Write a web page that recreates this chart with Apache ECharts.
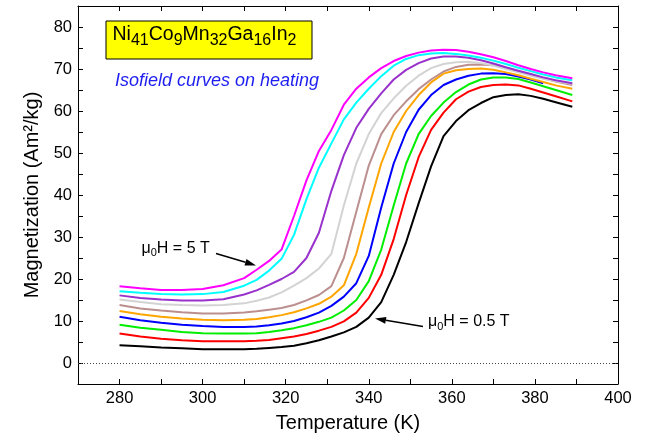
<!DOCTYPE html>
<html><head><meta charset="utf-8">
<script src="https://cdn.jsdelivr.net/npm/echarts@6/dist/echarts.min.js"></script>
<style>html,body{margin:0;padding:0;background:#fff}#c{width:646px;height:438px}</style>
</head><body><div id="c"></div>
<script>
// ---- data ----
const temperature = [280,285,290,295,300,305,310,313,316,319,322,325,328,331,334,337,340,343,346,349,352,355,358,361,364,367,370,373,376,379,382,385,389];

const m0_5T = [4.2,4.0,3.7,3.5,3.3,3.3,3.3,3.4,3.6,3.8,4.1,4.7,5.4,6.3,7.3,8.6,10.8,14.5,21,28.8,38,46.8,54,57.6,60.2,61.9,63.3,63.8,64.0,63.6,62.9,62.1,61.0];
const m1_0T = [7.0,6.3,5.8,5.4,5.2,5.2,5.2,5.3,5.5,5.9,6.3,6.9,7.7,8.6,9.9,12,15.5,21,29.5,40,49,55.5,59.6,62.8,64.6,65.7,66.2,66.3,66.1,65.3,64.4,63.5,62.3];
const m1_5T = [9.1,8.4,7.9,7.4,7.1,7.0,7.0,7.1,7.4,7.8,8.3,9.0,9.8,10.8,12.5,15,19.5,27,37.5,47.5,54.5,58.8,62,64.5,66.3,67.5,68,68,67.6,66.8,65.9,65,63.8];
const m2_0T = [11.0,10.2,9.6,9.1,8.8,8.6,8.6,8.7,9.0,9.4,10.0,10.9,12.0,13.6,15.8,19,25.5,37,47.5,55,60.3,63.8,66.2,67.5,68.4,68.9,69,68.8,68.2,67.5,66.6,null,null];
const m2_5T = [12.4,11.6,11.0,10.6,10.3,10.2,10.3,10.5,10.9,11.4,12.1,13.0,14.1,15.8,18.5,26,37,47.5,55,60,63.8,66.8,68.9,69.7,70,70.1,69.8,69.2,68.5,67.7,66.9,66.1,65.3];
const m3_0T = [13.8,13.0,12.5,12.1,11.8,11.8,12.0,12.3,12.7,13.1,13.8,14.9,16.2,18.3,25,36,47,54.5,59,62.3,65.2,67.5,69.4,70.5,71,71.1,70.9,70.3,69.5,68.6,67.8,67,66.2];
const m3_5T = [15.1,14.5,14.0,13.8,13.7,13.8,14.2,14.8,15.6,16.8,18.4,20.2,22.5,26,37.5,47.5,54.5,59.5,63,66,68.4,70.2,71.2,71.6,71.7,71.4,70.8,70,69.2,68.4,67.7,67.1,66.5];
const m4_0T = [16.1,15.5,15.1,14.9,14.9,15.2,16.3,17.3,18.6,20,21.7,25,31,41,49.5,56,60.5,64.2,67.5,69.8,71.4,72.5,73,73,72.7,72.1,71.3,70.4,69.6,68.8,68,67.3,66.6];
const m4_5T = [17.1,16.7,16.4,16.3,16.4,16.9,18.4,19.8,22,24.8,30.5,39,46.5,52.3,58,62,65.3,68.3,70.8,72.4,73.3,73.7,73.8,73.6,73.2,72.7,72,71.2,70.3,69.5,68.7,68,67.3];
const m5_0T = [18.3,17.8,17.4,17.4,17.6,18.5,20.2,22.2,24.3,27,35,43.5,50.5,55.5,61.5,65.3,68,70.2,71.9,73.1,73.9,74.4,74.6,74.5,74.1,73.5,72.8,71.9,70.9,70,69.2,68.5,67.8];

const fieldNames = ['0.5 T','1 T','1.5 T','2 T','2.5 T','3 T','3.5 T','4 T','4.5 T','5 T'];
const xTickLabels = [280,300,320,340,360,380,400];
const yTickLabels = [0,10,20,30,40,50,60,70,80];

// ---- styling ----
const curves = [m0_5T,m1_0T,m1_5T,m2_0T,m2_5T,m3_0T,m3_5T,m4_0T,m4_5T,m5_0T];
const colors = ['#000000','#ff0000','#00ee00','#0000ff','#ffa500','#bc8f8f','#d3d3d3','#9932cc','#00ffff','#ff00ff'];
const F = '"Liberation Sans", Arial, Helvetica, sans-serif';

const series = curves.map((vals, i) => {
  const s = {
    name: fieldNames[i], type: 'line', showSymbol: false, symbol: 'none',
    data: temperature.map((t, j) => [t, vals[j]]),
    lineStyle: { color: colors[i], width: 2 }, itemStyle: { color: colors[i] },
    z: 3 + i, silent: true, connectNulls: false
  };
  if (i === 0) {
    s.markLine = { silent: true, symbol: 'none', label: { show: false },
      lineStyle: { type: [1, 2], color: '#444', width: 1 }, data: [{ yAxis: 0 }], z: 1 };
  }
  return s;
});

const axisCommon = {
  axisLine: { show: true, onZero: false, lineStyle: { color: '#000', width: 1 } },
  axisTick: { show: true, inside: true, length: 5, lineStyle: { color: '#000', width: 1 } },
  splitLine: { show: false }
};

const chart = echarts.init(document.getElementById('c'), null, { renderer: 'canvas' });
chart.setOption({
  animation: false,
  backgroundColor: '#fff',
  grid: { left: 78, right: 28, top: 6, bottom: 54, outerBoundsMode: 'none', containLabel: false },
  xAxis: [
    Object.assign({ type: 'value', min: 270, max: 400, interval: 10, position: 'bottom',
      axisLabel: { formatter: v => xTickLabels.includes(v) ? String(v) : '', color: '#000', fontSize: 16.5, fontFamily: F, margin: 6 },
      name: 'Temperature (K)', nameLocation: 'middle', nameGap: 29,
      nameTextStyle: { fontSize: 20, color: '#000', fontFamily: F } }, axisCommon),
    Object.assign({ type: 'value', min: 270, max: 400, interval: 10, position: 'top',
      axisLabel: { show: false } }, axisCommon)
  ],
  yAxis: [
    Object.assign({ type: 'value', min: -5, max: 85, interval: 5, position: 'left',
      axisLabel: { formatter: v => yTickLabels.includes(v) ? String(v) : '', color: '#000', fontSize: 16.5, fontFamily: F, margin: 6 },
      name: 'Magnetization (Am²/kg)', nameLocation: 'middle', nameGap: 36,
      nameTextStyle: { fontSize: 20, color: '#000', fontFamily: F } }, axisCommon),
    Object.assign({ type: 'value', min: -5, max: 85, interval: 5, position: 'right',
      axisLabel: { show: false } }, axisCommon)
  ],
  series: series,
  graphic: [
    { type: 'rect', z: 50, shape: { x: 106, y: 21, width: 206, height: 38 },
      style: { fill: '#ffff00', stroke: '#000', lineWidth: 1 } },
    { type: 'text', z: 51, x: 112.5, y: 24.5,
      style: { text: '{n|Ni}{s|41}{n|Co}{s|9}{n|Mn}{s|32}{n|Ga}{s|16}{n|In}{s|2}',
        rich: { n: { fontSize: 19.5, fontFamily: F, fill: '#000', lineHeight: 24, verticalAlign: 'top' },
                s: { fontSize: 16, fontFamily: F, fill: '#000', lineHeight: 8, verticalAlign: 'bottom' } } } },
    { type: 'text', z: 51, x: 115, y: 81,
      style: { text: 'Isofield curves on heating', fontStyle: 'italic', fontSize: 18, fontFamily: F,
        fill: '#1e1ef0', verticalAlign: 'middle' } },
    { type: 'text', z: 51, x: 141.5, y: 240.5,
      style: { text: '{t|μ}{s|0}{t|H = 5 T}',
        rich: { t: { fontSize: 16, fontFamily: F, fill: '#000', lineHeight: 18, verticalAlign: 'top' },
                s: { fontSize: 11, fontFamily: F, fill: '#000', lineHeight: 6, verticalAlign: 'bottom' } } } },
    { type: 'text', z: 51, x: 428, y: 314,
      style: { text: '{t|μ}{s|0}{t|H = 0.5 T}',
        rich: { t: { fontSize: 16, fontFamily: F, fill: '#000', lineHeight: 18, verticalAlign: 'top' },
                s: { fontSize: 11, fontFamily: F, fill: '#000', lineHeight: 6, verticalAlign: 'bottom' } } } },
    { type: 'line', z: 51, shape: { x1: 216, y1: 253.5, x2: 245.5, y2: 262.3 }, style: { stroke: '#000', lineWidth: 1.5 } },
    { type: 'polygon', z: 51, shape: { points: [[256, 265.5], [244.5, 265.6], [246.5, 258.9]] }, style: { fill: '#000' } },
    { type: 'line', z: 51, shape: { x1: 423, y1: 326.5, x2: 385.8, y2: 320.3 }, style: { stroke: '#000', lineWidth: 1.5 } },
    { type: 'polygon', z: 51, shape: { points: [[375, 318.5], [386.4, 316.9], [385.2, 323.8]] }, style: { fill: '#000' } }
  ]
});
</script></body></html>
